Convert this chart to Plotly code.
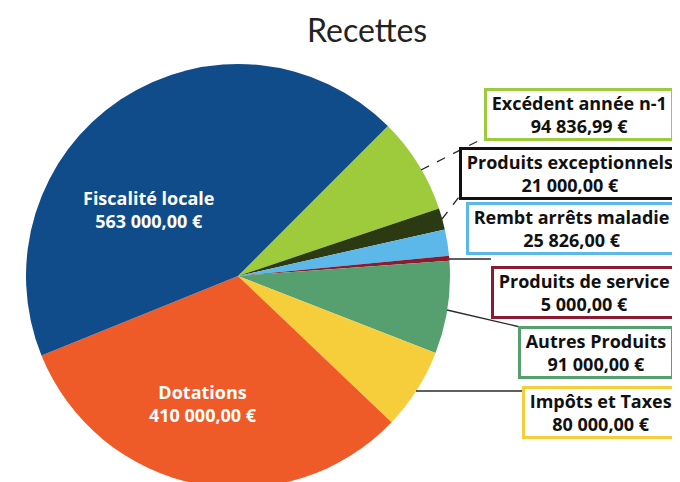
import plotly.graph_objects as go

# recettes, in drawing order (clockwise from the upper right)
labels = ["Excédent année n-1", "Produits exceptionnels", "Rembt arrêts maladie",
          "Produits de service", "Autres Produits", "Impôts et Taxes",
          "Dotations", "Fiscalité locale"]
values = [94836.99, 21000.00, 25826.00, 5000.00, 91000.00, 80000.00, 410000.00, 563000.00]
amounts = ["94 836,99 €", "21 000,00 €", "25 826,00 €", "5 000,00 €",
           "91 000,00 €", "80 000,00 €", "410 000,00 €", "563 000,00 €"]
colors = ["#9DCB3C", "#2B3A12", "#5BB8E8", "#8A1B31", "#55A06E", "#F6CE3C", "#EF5A29", "#104C8A"]
box_borders = ["#9DCB3C", "#111111", "#5BB8E8", "#8A1B31", "#55A06E", "#F6CE3C"]

W, H = 680, 482
OFF = 8  # page margin around the plot div


def px(x):
    # page pixel -> paper x
    return (x - OFF) / W


def py(y):
    # page pixel -> paper y
    return 1 - (y - OFF) / H


fig = go.Figure(go.Pie(
    labels=labels,
    values=values,
    marker=dict(colors=colors, line=dict(width=0)),
    sort=False,
    direction="clockwise",
    rotation=45,
    textinfo="none",
    hoverinfo="label+value",
    showlegend=False,
    domain=dict(x=[px(26), px(450)], y=[py(488), py(64)]),
))

# boxed labels on the right (centre in page pixels)
box_pos = [(579, 114), (570, 173), (571, 229), (584, 292), (596, 352), (600, 412)]
annotations = []
for i, (cx, cy) in enumerate(box_pos):
    annotations.append(dict(
        x=px(cx), y=py(cy), xref="paper", yref="paper", showarrow=False,
        xanchor="center", yanchor="middle",
        text="<b>&nbsp;{0}&nbsp;<br>{1}</b>".format(labels[i], amounts[i]),
        font=dict(family="Open Sans", size=18, color="#111111"),
        align="center", bgcolor="white",
        bordercolor=box_borders[i], borderwidth=3, borderpad=0,
    ))

# labels inside the two big slices
annotations.append(dict(
    x=px(148), y=py(209), xref="paper", yref="paper", showarrow=False,
    xanchor="center", yanchor="middle",
    text="<b>{0}<br>{1}</b>".format(labels[7], amounts[7]),
    font=dict(family="Open Sans", size=18, color="white"), align="center"))
annotations.append(dict(
    x=px(203), y=py(403), xref="paper", yref="paper", showarrow=False,
    xanchor="center", yanchor="middle",
    text="<b>{0}<br>{1}</b>".format(labels[6], amounts[6]),
    font=dict(family="Open Sans", size=18, color="white"), align="center"))

# title
annotations.append(dict(
    x=px(367), y=py(30), xref="paper", yref="paper", showarrow=False,
    xanchor="center", yanchor="middle",
    text="Recettes", font=dict(family="Lato", size=32, color="#222222")))

# leader lines (page pixels)
lines = [
    ((421, 170), (482, 139), "dash"),
    ((442, 219), (459, 197), "dash"),
    ((449, 259), (491, 259), "solid"),
    ((447, 310), (520, 327), "solid"),
    ((416, 391), (523, 391), "solid"),
]
shapes = []
for (x0, y0), (x1, y1), dash in lines:
    shapes.append(dict(type="line", xref="paper", yref="paper",
                       x0=px(x0), y0=py(y0), x1=px(x1), y1=py(y1),
                       line=dict(color="#2a2a2a", width=1.3, dash=dash)))

fig.update_layout(
    width=W, height=H,
    margin=dict(l=0, r=0, t=0, b=0),
    paper_bgcolor="white",
    annotations=annotations,
    shapes=shapes,
)

fig.write_html("out.html")
